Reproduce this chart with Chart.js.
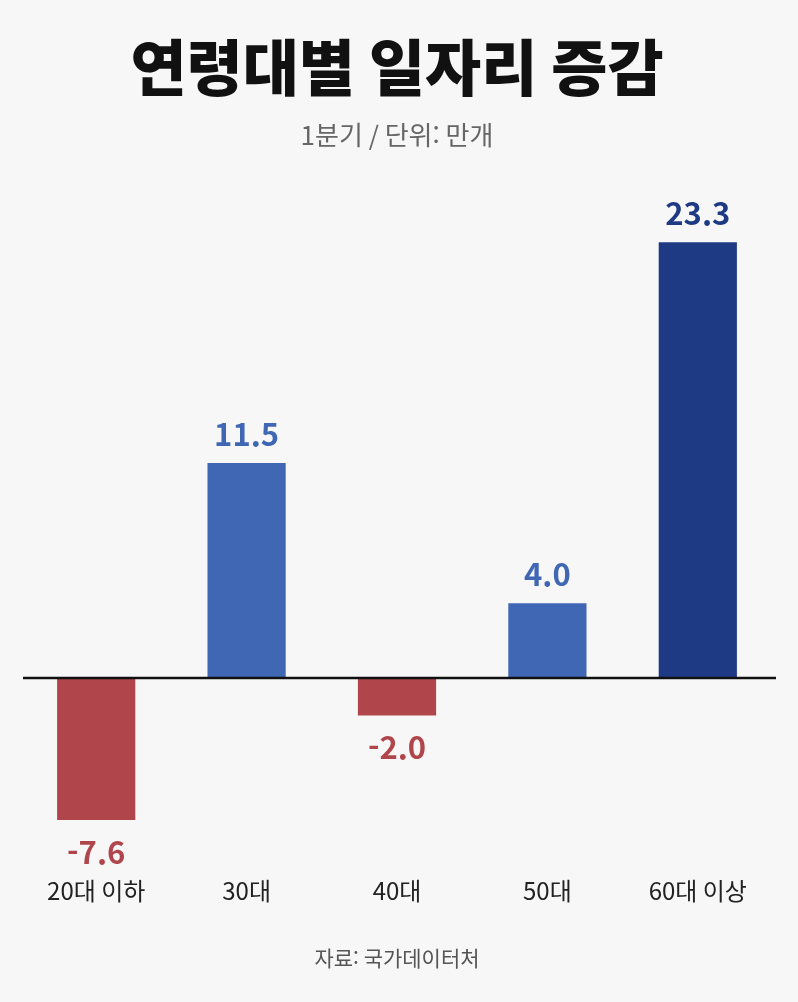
<!DOCTYPE html>
<html lang="ko">
<head>
<meta charset="utf-8">
<title>연령대별 일자리 증감</title>
<script src="https://cdn.jsdelivr.net/npm/chart.js@4.4.1/dist/chart.umd.min.js"></script>
<style>
  html, body { margin: 0; padding: 0; background: #f7f7f7; }
  #wrap { width: 798px; height: 1002px; position: relative; }
</style>
</head>
<body>
<div id="wrap"><canvas id="jobsChart"></canvas></div>
<script>
// 연령대별 일자리 증감 (1분기, 단위: 만개)
const categories = ["20대 이하", "30대", "40대", "50대", "60대 이상"];
const changes = [-7.6, 11.5, -2.0, 4.0, 23.3];

const FONT = "'Noto Sans CJK KR', 'Noto Sans', sans-serif";
const RED = "#b0464b";
const BLUE = "#4067b4";
const NAVY = "#1e3a84";

// 막대 색: 음수는 빨강, 마지막(60대 이상)은 진한 남색, 나머지는 파랑
function barColor(i) {
    if (changes[i] < 0) return RED;
    if (i === changes.length - 1) return NAVY;
    return BLUE;
}

// 0 기준선
const zeroLine = {
    id: "zeroLine",
    afterDatasetsDraw(chart) {
        const { ctx, chartArea, scales } = chart;
        const y = scales.y.getPixelForValue(0);
        ctx.save();
        ctx.strokeStyle = "#111";
        ctx.lineWidth = 2.5;
        ctx.beginPath();
        ctx.moveTo(chartArea.left + 2, y);
        ctx.lineTo(chartArea.right + 3, y);
        ctx.stroke();
        ctx.restore();
    }
};

// 막대 위/아래 값 표시
const valueLabels = {
    id: "valueLabels",
    afterDatasetsDraw(chart) {
        const { ctx } = chart;
        const meta = chart.getDatasetMeta(0);
        ctx.save();
        ctx.font = "bold 31px " + FONT;
        ctx.textAlign = "center";
        ctx.textBaseline = "alphabetic";
        meta.data.forEach((bar, i) => {
            const v = changes[i];
            ctx.fillStyle = barColor(i);
            const y = v >= 0 ? bar.y - 17 : bar.y + 44;
            ctx.fillText(v.toFixed(1), bar.x, y);
        });
        ctx.restore();
    }
};

// 출처
const sourceNote = {
    id: "sourceNote",
    afterDraw(chart) {
        const { ctx } = chart;
        ctx.save();
        ctx.font = "21px " + FONT;
        ctx.fillStyle = "#555";
        ctx.textAlign = "center";
        ctx.textBaseline = "middle";
        ctx.fillText("자료: 국가데이터처", chart.width / 2 - 2, 958);
        ctx.restore();
    }
};

new Chart(document.getElementById("jobsChart"), {
    type: "bar",
    data: {
        labels: categories,
        datasets: [{
            data: changes,
            backgroundColor: ctx => barColor(ctx.dataIndex),
            borderWidth: 0,
            categoryPercentage: 1.0,
            barPercentage: 0.52
        }]
    },
    options: {
        responsive: true,
        maintainAspectRatio: false,
        animation: false,
        layout: { padding: { left: 21, right: 25, top: 0, bottom: 97 } },
        scales: {
            x: {
                grid: { display: false, drawTicks: false },
                border: { display: false },
                ticks: {
                    color: "#222",
                    font: { family: FONT, size: 24 },
                    padding: 11,
                    maxRotation: 0,
                    autoSkip: false
                },
                afterFit(scale) { scale.height = 40; }
            },
            y: {
                display: false,
                min: -10,
                max: 25
            }
        },
        plugins: {
            legend: { display: false },
            tooltip: { enabled: false },
            title: {
                display: true,
                text: "연령대별 일자리 증감",
                color: "#111",
                font: { family: FONT, size: 61, weight: "900" },
                padding: { top: 31, bottom: 15 }
            },
            subtitle: {
                display: true,
                text: "1분기 / 단위: 만개",
                color: "#666",
                font: { family: FONT, size: 26 },
                padding: { top: 0, bottom: 60 }
            }
        }
    },
    plugins: [zeroLine, valueLabels, sourceNote]
});
</script>
</body>
</html>
